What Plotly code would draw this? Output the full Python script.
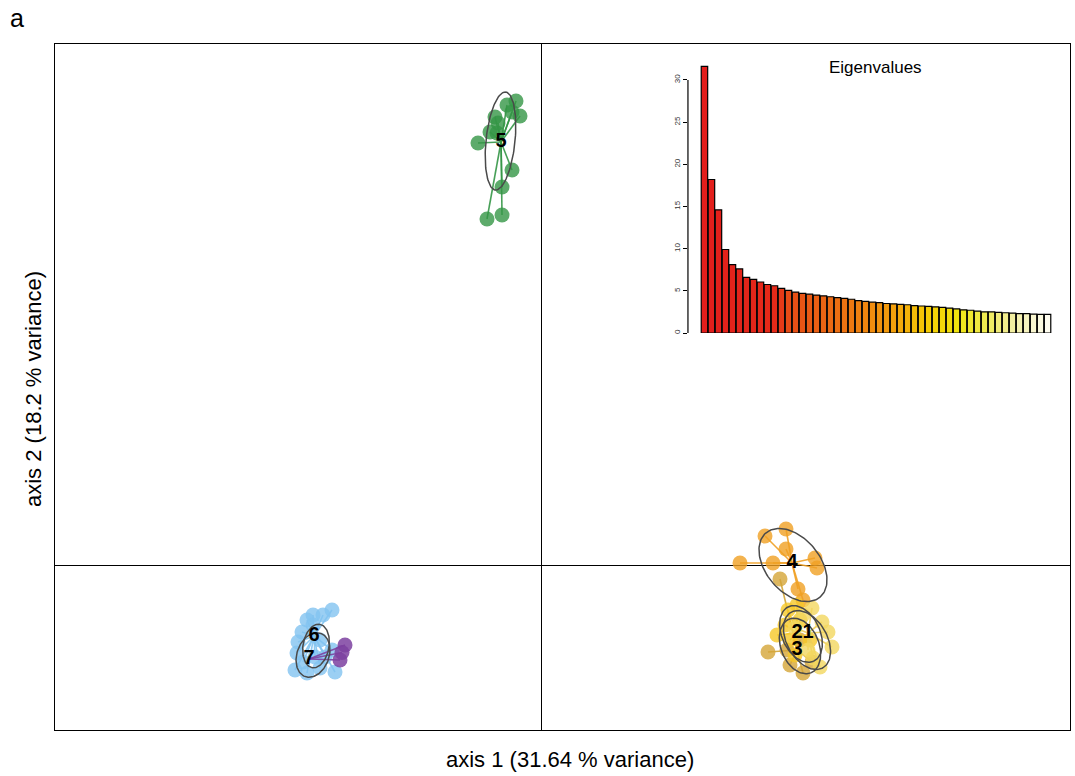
import numpy as np
import plotly.graph_objects as go

# ---------------- data ----------------
eigenvalues = [31.6, 18.2, 14.6, 9.9, 8.1, 7.6, 6.6, 6.35, 6.05, 5.75,
               5.6, 5.3, 5.05, 4.85, 4.7, 4.6, 4.5, 4.4, 4.3, 4.2,
               4.1, 4.0, 3.85, 3.75, 3.65, 3.6, 3.5, 3.45, 3.4, 3.35,
               3.25, 3.2, 3.15, 3.1, 3.05, 2.95, 2.85, 2.75, 2.7, 2.6,
               2.5, 2.5, 2.45, 2.4, 2.35, 2.3, 2.3, 2.25, 2.2, 2.2]
eig_ticks = [0, 5, 10, 15, 20, 25, 30]

clusters = ["5", "6", "7", "4", "3", "2", "1"]

pts_x = {
    "5": [-0.50, -0.68, -0.42, -0.58, -0.92, -0.86, -1.02, -1.26, -0.88, -0.58, -0.78, -1.08, -0.78],
    "6": [-4.18, -4.36, -4.56, -4.68, -4.56, -4.78, -4.86, -4.88, -4.92, -4.68, -4.42, -4.12, -4.18, -4.32, -4.52, -4.76, -4.42],
    "7": [-3.92, -4.02, -3.98],
    "4": [3.98, 4.48, 4.90, 4.90, 4.64, 5.48, 5.52, 5.14, 5.24],
    "3": [4.54, 4.92, 5.24, 4.98, 4.78, 5.42, 5.18],
    "2": [4.94, 5.12, 4.72, 4.88, 5.18, 5.08, 5.38, 4.98],
    "1": [5.42, 5.62, 5.74, 5.82, 5.58, 5.44, 5.34, 5.08, 5.24],
}
pts_y = {
    "5": [9.28, 9.20, 8.98, 9.06, 8.96, 8.84, 8.66, 8.44, 8.64, 7.90, 7.56, 6.92, 7.00],
    "6": [-0.90, -1.00, -1.00, -1.10, -1.20, -1.34, -1.54, -1.76, -2.10, -2.16, -2.06, -2.14, -1.70, -1.84, -1.84, -1.94, -1.50],
    "7": [-1.60, -1.90, -1.75],
    "4": [0.04, 0.58, 0.72, 0.32, 0.04, 0.14, -0.06, -0.48, -0.70],
    "3": [-1.74, -1.70, -2.16, -2.00, -0.28, -1.94, -1.50],
    "2": [-0.90, -0.80, -1.40, -1.20, -1.10, -1.80, -1.50, -1.50],
    "1": [-0.86, -1.14, -1.34, -1.64, -2.04, -1.86, -1.70, -1.26, -1.00],
}
centroids = {
    "5": (-0.80, 8.46), "6": (-4.54, -1.42), "7": (-4.64, -1.88),
    "4": (5.02, 0.04), "3": (5.12, -1.70), "2": (5.12, -1.36), "1": (5.34, -1.36),
}
# ellipse: center x, center y, semi-major, semi-minor, angle (deg)
ellipses = {
    "5": (-0.81, 8.48, 0.985, 0.29, 84.0),
    "6": (-4.50, -1.62, 0.44, 0.26, 80.0),
    "7": (-4.56, -1.80, 0.46, 0.32, 70.0),
    "4": (5.04, 0.00, 0.84, 0.54, -50.0),
    "3": (5.18, -1.62, 0.58, 0.38, -68.0),
    "2": (5.20, -1.38, 0.60, 0.38, -65.0),
    "1": (5.32, -1.50, 0.64, 0.40, -60.0),
}

# ---------------- styles ----------------
colors = {
    "5": "rgba(52,150,70,0.80)", "6": "rgba(130,195,240,0.80)", "7": "rgba(125,65,160,0.85)",
    "4": "rgba(240,160,35,0.80)", "3": "rgba(212,165,55,0.80)", "2": "rgba(246,200,40,0.80)",
    "1": "rgba(242,215,95,0.80)",
}
line_colors = {
    "5": "rgba(52,150,70,0.9)", "6": "rgba(130,195,240,0.9)", "7": "rgba(125,65,160,0.9)",
    "4": "rgba(240,160,35,0.9)", "3": "rgba(210,165,55,0.9)", "2": "rgba(240,195,40,0.9)",
    "1": "rgba(235,205,90,0.9)",
}


def bar_colors(n):
    stops = [(0.0, (226, 30, 28)), (10 / 49, (228, 42, 25)), (12 / 49, (230, 75, 22)),
             (20 / 49, (237, 115, 18)), (27 / 49, (244, 160, 12)), (32 / 49, (246, 205, 5)),
             (36 / 49, (240, 228, 15)), (40 / 49, (240, 235, 80)), (44 / 49, (242, 238, 160)),
             (1.0, (255, 253, 240))]
    out = []
    for i in range(n):
        t = i / (n - 1)
        for (t0, c0), (t1, c1) in zip(stops[:-1], stops[1:]):
            if t0 <= t <= t1:
                f = (t - t0) / (t1 - t0)
                c = [round(a + (b - a) * f) for a, b in zip(c0, c1)]
                out.append("rgb(%d,%d,%d)" % tuple(c))
                break
    return out


fig = go.Figure()
FONT = "Liberation Sans, Arial, Helvetica, sans-serif"

# star segments + points
for k in clusters:
    cx, cy = centroids[k]
    sx, sy = [], []
    for x, y in zip(pts_x[k], pts_y[k]):
        sx += [cx, x, None]
        sy += [cy, y, None]
    fig.add_trace(go.Scatter(x=sx, y=sy, mode="lines", line=dict(color=line_colors[k], width=1.6),
                             hoverinfo="skip", showlegend=False))
    fig.add_trace(go.Scatter(x=pts_x[k], y=pts_y[k], mode="markers",
                             marker=dict(size=15, color=colors[k], line=dict(width=0)),
                             showlegend=False, name="cluster " + k))

# ellipses
t = np.linspace(0, 2 * np.pi, 120)
for k in clusters:
    ex, ey, a, b, ang = ellipses[k]
    th = np.deg2rad(ang)
    xx = ex + a * np.cos(t) * np.cos(th) - b * np.sin(t) * np.sin(th)
    yy = ey + a * np.cos(t) * np.sin(th) + b * np.sin(t) * np.cos(th)
    fig.add_trace(go.Scatter(x=xx, y=yy, mode="lines", line=dict(color="#4a4a4a", width=1.5),
                             hoverinfo="skip", showlegend=False))

# centroid labels
for k in clusters:
    cx, cy = centroids[k]
    fig.add_trace(go.Scatter(x=[cx], y=[cy], mode="text", text=["<b>%s</b>" % k],
                             textfont=dict(size=20, color="black", family=FONT),
                             textposition="middle center", hoverinfo="skip", showlegend=False))

# eigenvalue inset
fig.add_trace(go.Bar(x=list(range(len(eigenvalues))), y=eigenvalues, xaxis="x2", yaxis="y2",
                     marker=dict(color=bar_colors(len(eigenvalues)), line=dict(color="black", width=1.2)),
                     showlegend=False, hoverinfo="y"))

fig.update_layout(
    width=1075, height=776,
    margin=dict(l=55, r=5, t=44, b=46),
    plot_bgcolor="white", paper_bgcolor="white",
    bargap=0.08,
    xaxis=dict(range=[-9.72, 10.58], showgrid=False, showticklabels=False, ticks="",
               zeroline=True, zerolinecolor="black", zerolinewidth=1.3,
               showline=True, mirror=True, linecolor="black", linewidth=1.3),
    yaxis=dict(range=[-3.30, 10.42], showgrid=False, showticklabels=False, ticks="",
               zeroline=True, zerolinecolor="black", zerolinewidth=1.3,
               showline=True, mirror=True, linecolor="black", linewidth=1.3),
    xaxis2=dict(domain=[0.6236, 0.9823], range=[-2.357, 49.64], anchor="y2",
                showgrid=False, showticklabels=False, ticks="", zeroline=False, showline=False),
    yaxis2=dict(domain=[0.5787, 0.9767], range=[0, 32.37], anchor="x2",
                showgrid=False, zeroline=False, showline=False,
                tickvals=eig_ticks, ticktext=[str(v) for v in eig_ticks],
                ticks="outside", ticklen=4, tickwidth=1, tickcolor="black",
                tickangle=-90, tickfont=dict(size=8, color="#333", family=FONT)),
    font=dict(family=FONT),
)

# inset y axis line from 0 to 30
fig.add_shape(type="line", xref="x2 domain", yref="y2", x0=0, x1=0, y0=0, y1=eig_ticks[-1],
              line=dict(color="black", width=1.2))


def ann(text, px, py, size, angle=0):
    fig.add_annotation(text=text, xref="paper", yref="paper",
                       x=(px - 55) / 1015, y=(730 - py) / 686, showarrow=False,
                       xanchor="center", yanchor="middle", textangle=angle,
                       font=dict(size=size, color="black", family=FONT))


ann("Eigenvalues", 875, 67, 17)
ann("axis 1 (31.64 % variance)", 570, 759, 22)
ann("axis 2 (18.2 % variance)", 33, 389, 22, -90)
ann("a", 17, 18, 25)

fig.write_html("out.html", config={"displayModeBar": False},
               post_script="document.body.style.margin='0';document.body.style.overflow='hidden';")
